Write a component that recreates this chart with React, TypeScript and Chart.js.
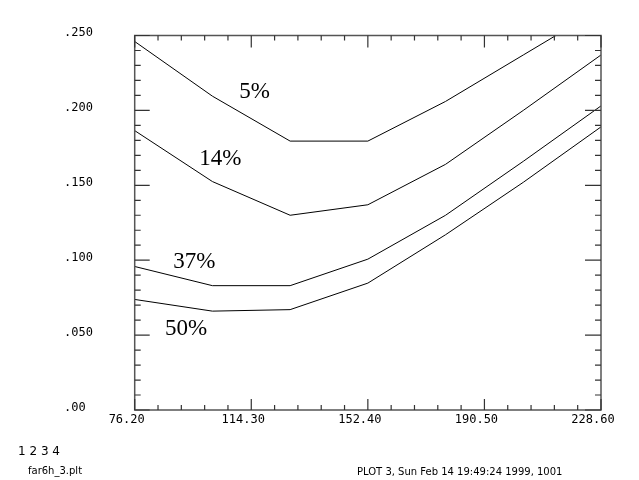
import React, { useEffect, useRef } from "react";
import { Chart, registerables } from "chart.js";

Chart.register(...registerables);

// ---- data ----
const xValues = [76.2, 101.6, 127.0, 152.4, 177.8, 203.2, 228.6];
const series5 = [0.246, 0.2095, 0.1795, 0.1795, 0.206, 0.237, 0.268];
const series14 = [0.1865, 0.1525, 0.13, 0.137, 0.164, 0.2, 0.237];
const series37 = [0.0958, 0.083, 0.083, 0.1007, 0.13, 0.166, 0.203];
const series50 = [0.0738, 0.066, 0.067, 0.0847, 0.117, 0.152, 0.189];

const seriesLabels = ["5%", "14%", "37%", "50%"];
// label anchor points (data coordinates)
const labelX = [110.4, 97.3, 88.8, 86.1];
const labelY = [0.208, 0.1633, 0.0945, 0.05];

const xTickValues = [76.2, 114.3, 152.4, 190.5, 228.6];
const xTickLabels = ["76.20", "114.30", "152.40", "190.50", "228.60"];
const yTickValues = [0, 0.05, 0.1, 0.15, 0.2, 0.25];
const yTickLabels = [".00", ".050", ".100", ".150", ".200", ".250"];

const xMin = 76.2;
const xMax = 228.6;
const xMinorStep = 7.62;
const yMin = 0;
const yMax = 0.25;
const yMinorStep = 0.01;

const footerLeftTop = "1 2 3 4";
const footerFile = "far6h_3.plt";
const footerInfo = "PLOT 3, Sun Feb 14 19:49:24 1999, 1001";

const toPoints = (ys: number[]) => ys.map((y, i) => ({ x: xValues[i], y }));

const framePlugin = {
  id: "framePlugin",
  afterDraw(chart: any) {
    const ctx = chart.ctx as CanvasRenderingContext2D;
    const { left, right, top, bottom } = chart.chartArea;
    const xs = chart.scales.x;
    const ys = chart.scales.y;
    ctx.save();

    // frame
    ctx.strokeStyle = "#555";
    ctx.lineWidth = 1.5;
    ctx.strokeRect(left, top, right - left, bottom - top);

    // ticks
    ctx.strokeStyle = "#333";
    ctx.lineWidth = 1.2;
    const nx = Math.round((xMax - xMin) / xMinorStep);
    for (let i = 0; i <= nx; i++) {
      const v = xMin + i * xMinorStep;
      const px = xs.getPixelForValue(v);
      const major = i % 5 === 0;
      const lb = major ? 11 : 5;
      const lt = major ? 12 : 5;
      ctx.beginPath();
      ctx.moveTo(px, bottom);
      ctx.lineTo(px, bottom - lb);
      ctx.moveTo(px, top);
      ctx.lineTo(px, top + lt);
      ctx.stroke();
    }
    const ny = Math.round((yMax - yMin) / yMinorStep);
    for (let i = 0; i <= ny; i++) {
      const v = yMin + i * yMinorStep;
      const py = ys.getPixelForValue(v);
      const major = i % 5 === 0;
      const ll = major ? 15 : 6;
      const lr = major ? 16 : 6;
      ctx.beginPath();
      ctx.moveTo(left, py);
      ctx.lineTo(left + ll, py);
      ctx.moveTo(right, py);
      ctx.lineTo(right - lr, py);
      ctx.stroke();
    }

    // tick labels
    ctx.fillStyle = "#000";
    ctx.font = '12px "DejaVu Sans Mono"';
    ctx.textBaseline = "alphabetic";
    ctx.textAlign = "center";
    xTickValues.forEach((v, i) => {
      const px = xs.getPixelForValue(v);
      ctx.fillText(xTickLabels[i], px - 8, bottom + 13);
    });
    ctx.textAlign = "left";
    yTickValues.forEach((v, i) => {
      const py = ys.getPixelForValue(v);
      ctx.fillText(yTickLabels[i], 64, py + 0.5);
    });

    // series labels
    ctx.font = '23px "Liberation Serif"';
    ctx.textAlign = "left";
    seriesLabels.forEach((t, i) => {
      ctx.fillText(t, xs.getPixelForValue(labelX[i]), ys.getPixelForValue(labelY[i]));
    });

    // footer
    ctx.font = '12px "DejaVu Sans"';
    ctx.fillText(footerLeftTop, 18, 455);
    ctx.font = '10px "DejaVu Sans"';
    ctx.fillText(footerFile, 28, 474);
    ctx.fillText(footerInfo, 357, 475);

    ctx.restore();
  },
};

export default function App() {
  const canvasRef = useRef<HTMLCanvasElement | null>(null);

  useEffect(() => {
    if (!canvasRef.current) return;
    const mk = (ys: number[]) => ({
      data: toPoints(ys),
      borderColor: "#000",
      borderWidth: 1,
      pointRadius: 0,
      tension: 0,
      fill: false,
    });
    const chart = new Chart(canvasRef.current, {
      type: "line",
      data: {
        datasets: [mk(series5), mk(series14), mk(series37), mk(series50)],
      },
      options: {
        responsive: false,
        animation: false,
        layout: { padding: { left: 134.7, right: 38, top: 35.5, bottom: 70 } },
        plugins: { legend: { display: false }, tooltip: { enabled: false } },
        scales: {
          x: { type: "linear", min: xMin, max: xMax, display: false },
          y: { type: "linear", min: yMin, max: yMax, display: false },
        },
      },
      plugins: [framePlugin],
    });
    return () => chart.destroy();
  }, []);

  return (
    <div style={{ position: "absolute", left: 0, top: 0, width: 639, height: 480, background: "#fff" }}>
      <canvas ref={canvasRef} width={639} height={480} />
    </div>
  );
}
